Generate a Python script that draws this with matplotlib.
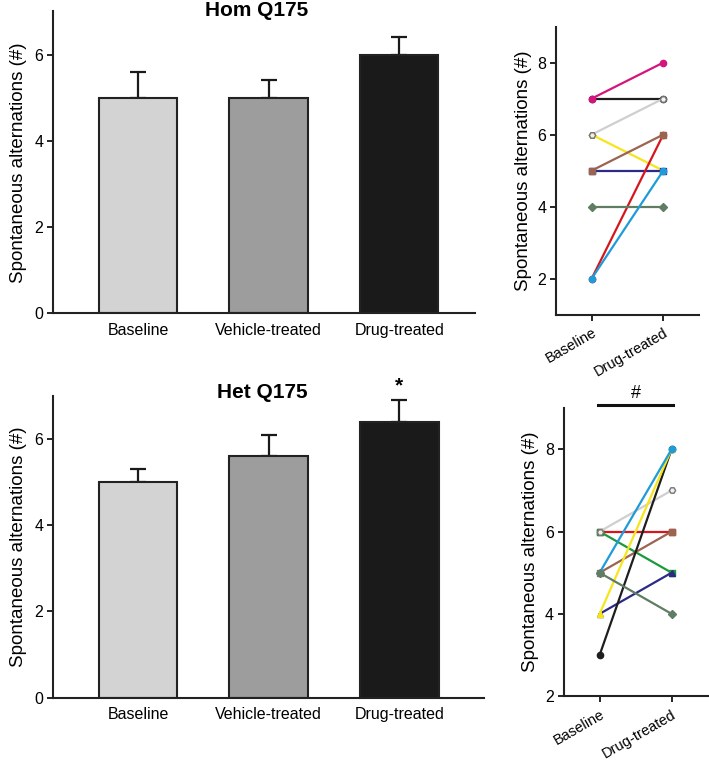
import matplotlib
matplotlib.use("Agg")
import matplotlib.pyplot as plt
import numpy as np

plt.rcParams['font.family'] = ['Liberation Sans', 'DejaVu Sans']

groups = ["Baseline", "Vehicle-treated", "Drug-treated"]
bar_colors = ["#d2d3d2", "#9d9d9d", "#1a1a1a"]

hom_means = [5.0, 5.0, 6.0]
hom_sem = [0.6, 0.4, 0.4]
het_means = [5.0, 5.6, 6.4]
het_sem = [0.3, 0.5, 0.5]

pair_labels = ["Baseline", "Drug-treated"]

# Hom Q175 individual animals (drawing order bottom -> top)
hom_base = [7, 7, 6, 6, 5, 2, 4, 5, 2]
hom_drug = [7, 8, 7, 5, 5, 6, 4, 6, 5]
hom_colors = ["#1e1e1e", "#d3157c", "#cfcfcf", "#f7e51c", "#2c2a85", "#d6161d", "#5f7d62", "#9a6450", "#1f9bd7"]
hom_markers = ["o", "o", "H", "H", "s", "o", "D", "s", "o"]
hom_mfc = ["#1e1e1e", "#d3157c", "#f4f4f4", "#f4f4cc", "#2c2a85", "#d6161d", "#5f7d62", "#9a6450", "#1f9bd7"]

# Het Q175 individual animals (drawing order bottom -> top)
het_base = [6, 6, 6, 5, 4, 3, 4, 5, 5]
het_drug = [6, 5, 7, 6, 5, 8, 8, 8, 4]
het_colors = ["#d6161d", "#1a9a3c", "#cfcfcf", "#9a6450", "#2c2a85", "#1e1e1e", "#f7e51c", "#1f9bd7", "#5f7d62"]
het_markers = ["s", "s", "H", "s", "^", "o", "^", "o", "D"]
het_mfc = ["#d6161d", "#1a9a3c", "#f4eef4", "#9a6450", "#2c2a85", "#1e1e1e", "#f7e51c", "#1f9bd7", "#5f7d62"]

fig = plt.figure(figsize=(7.09, 7.6), dpi=100)

ax1 = fig.add_axes([0.0748, 0.588, 0.670 - 0.0748, 0.397])
ax2 = fig.add_axes([0.0748, 0.082, 0.683 - 0.0748, 0.397])
ax3 = fig.add_axes([0.784, 0.586, 0.986 - 0.784, 0.379])
ax4 = fig.add_axes([0.795, 0.084, 0.998 - 0.795, 0.379])


def bar_panel(ax, means, sems, xmax):
    x = np.arange(len(groups))
    ax.errorbar(x, means, yerr=[np.zeros(len(sems)), sems], fmt='none',
                ecolor='#1a1a1a', elinewidth=1.6, capsize=6, capthick=1.6, zorder=1)
    ax.bar(x, means, width=0.6, color=bar_colors, edgecolor='#222222',
           linewidth=1.5, zorder=2)
    ax.set_xlim(-0.65, xmax)
    ax.set_ylim(0, 7)
    ax.set_yticks([0, 2, 4, 6])
    ax.set_xticks(x)
    ax.set_xticklabels(groups, fontsize=11.5)
    ax.tick_params(axis='x', length=0, pad=7)
    ax.tick_params(axis='y', direction='out', length=4, width=1.2, labelsize=11.5, pad=3)
    for s in ['top', 'right']:
        ax.spines[s].set_visible(False)
    for s in ['left', 'bottom']:
        ax.spines[s].set_linewidth(1.5)
        ax.spines[s].set_color('#222222')
    ax.set_ylabel("Spontaneous alternations (#)", fontsize=13.5, labelpad=5)


bar_panel(ax1, hom_means, hom_sem, 2.58)
bar_panel(ax2, het_means, het_sem, 2.65)
fig.text(257 / 709, 1 - 10 / 760, "Hom Q175", ha='center', va='center',
         fontsize=15, fontweight='bold')
fig.text(262 / 709, 1 - 392 / 760, "Het Q175", ha='center', va='center',
         fontsize=15, fontweight='bold')
ax2.text(2, het_means[2] + het_sem[2] + 0.12, "*", ha='center', va='bottom',
         fontsize=15, fontweight='bold')


def pair_panel(ax, base, drug, colors, markers, mfcs, ylim):
    for b, d, c, m, f in zip(base, drug, colors, markers, mfcs):
        ax.plot([0, 1], [b, d], color=c, lw=1.6, marker=m, markersize=4.5,
                markerfacecolor=f, markeredgecolor=c if f == c else '#777777',
                markeredgewidth=1.0)
    ax.set_xlim(-0.5, 1.5)
    ax.set_ylim(*ylim)
    ax.set_yticks([2, 4, 6, 8])
    ax.set_xticks([0, 1])
    ax.set_xticklabels(pair_labels, rotation=30, ha='right', rotation_mode='anchor', fontsize=10.5)
    ax.tick_params(axis='x', direction='out', length=4, width=1.2, pad=4)
    ax.tick_params(axis='y', direction='out', length=4, width=1.2, labelsize=11.5, pad=3)
    for s in ['top', 'right']:
        ax.spines[s].set_visible(False)
    for s in ['left', 'bottom']:
        ax.spines[s].set_linewidth(1.5)
        ax.spines[s].set_color('#222222')
    ax.set_ylabel("Spontaneous alternations (#)", fontsize=13.5, labelpad=4)


pair_panel(ax3, hom_base, hom_drug, hom_colors, hom_markers, hom_mfc, (1, 9))
pair_panel(ax4, het_base, het_drug, het_colors, het_markers, het_mfc, (2, 9))

ax4.plot([-0.02, 1.02], [9.08, 9.08], color='#111111', lw=2.2, clip_on=False)
ax4.text(0.5, 9.15, "#", ha='center', va='bottom', fontsize=13)

fig.savefig("out.png", dpi=100)
